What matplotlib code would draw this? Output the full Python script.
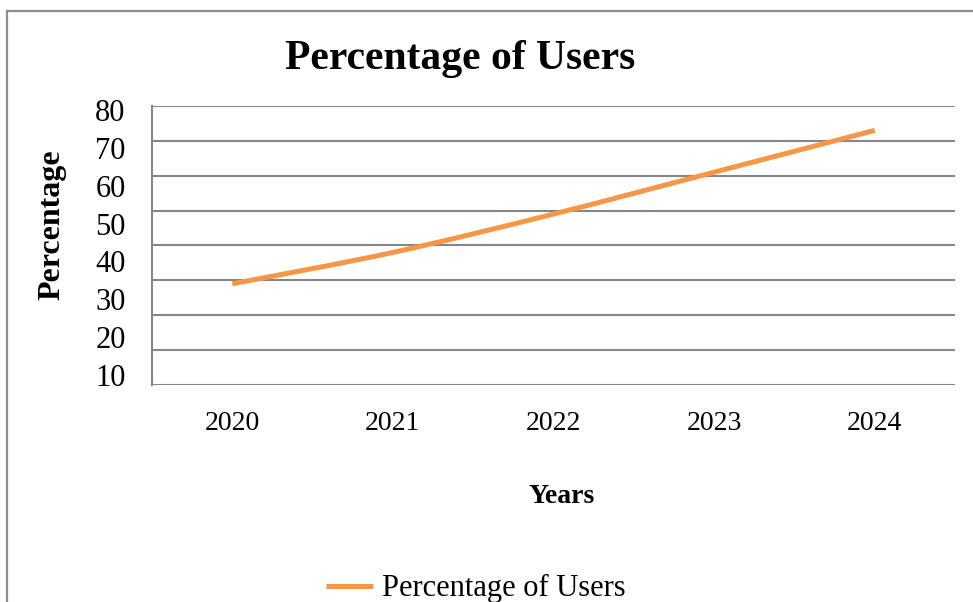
import matplotlib
matplotlib.use("Agg")
import matplotlib.pyplot as plt
from matplotlib.path import Path
from matplotlib.patches import PathPatch, Rectangle
from matplotlib.lines import Line2D

# Data
years = ["2020", "2021", "2022", "2023", "2024"]
users_pct = [29, 38, 49, 61, 73]
grid_values = [0, 10, 20, 30, 40, 50, 60, 70, 80]
axis_labels = [10, 20, 30, 40, 50, 60, 70, 80]

LINE_COLOR = "#F79646"
GRID_COLOR = "#868686"

plt.rcParams["font.family"] = ["Liberation Serif", "DejaVu Serif"]

fig = plt.figure(figsize=(9.73, 6.02), dpi=100)
fig.patch.set_facecolor("white")

# Chart border (left and top edges visible, rest runs off the canvas)
fig.add_artist(Rectangle((7 / 973, -0.1), 1.1, (602 - 11) / 602 + 0.1,
                         transform=fig.transFigure, fill=False,
                         ec="#8c8c8c", lw=1.6, zorder=0))

ax = fig.add_axes([0.1562, 0.3605, 0.8253, 0.4635])
ax.set_xlim(-0.5, len(years) - 0.5)
ax.set_ylim(0, 80)
for v in grid_values:
    ax.axhline(v, color=GRID_COLOR, lw=1.5, zorder=1)
for side in ["top", "right", "bottom"]:
    ax.spines[side].set_visible(False)
ax.spines["left"].set_color(GRID_COLOR)
ax.spines["left"].set_linewidth(1.5)
ax.set_yticks([])
ax.set_xticks(range(len(years)))
ax.set_xticklabels(years, fontsize=20)
ax.tick_params(axis="x", length=0, pad=19)


def smooth_path(xs, ys):
    pts = list(zip(xs, ys))
    verts = [pts[0]]
    codes = [Path.MOVETO]
    n = len(pts)
    for i in range(n - 1):
        p0 = pts[i - 1] if i > 0 else pts[i]
        p1 = pts[i]
        p2 = pts[i + 1]
        p3 = pts[i + 2] if i + 2 < n else pts[i + 1]
        c1 = (p1[0] + (p2[0] - p0[0]) / 6, p1[1] + (p2[1] - p0[1]) / 6)
        c2 = (p2[0] - (p3[0] - p1[0]) / 6, p2[1] - (p3[1] - p1[1]) / 6)
        verts += [c1, c2, p2]
        codes += [Path.CURVE4] * 3
    return Path(verts, codes)


ax.add_patch(PathPatch(smooth_path(range(len(years)), users_pct),
                       fill=False, ec=LINE_COLOR, lw=3.6,
                       capstyle="butt", zorder=3))

# Value labels along the left side
ax_lab = fig.add_axes(ax.get_position(), frameon=False)
ax_lab.set_ylim(7.36, 81.06)
ax_lab.set_yticks(axis_labels)
ax_lab.set_yticklabels([str(v) for v in axis_labels], fontsize=22)
ax_lab.tick_params(axis="y", length=0, pad=19)
ax_lab.set_xticks([])
ax_lab.patch.set_alpha(0)

fig.text(0.473, 0.885, "Percentage of Users", ha="center", va="baseline",
         fontsize=30, fontweight="bold")
fig.text(0.0534, 0.626, "Percentage", rotation=90, ha="center", va="center",
         fontsize=23, fontweight="bold")
fig.text(0.5776, 0.176, "Years", ha="center", va="center",
         fontsize=20, fontweight="bold")

handle = Line2D([], [], color=LINE_COLOR, lw=3.6, solid_capstyle="butt")
fig.legend(handles=[handle], labels=["Percentage of Users"],
           loc="center left", bbox_to_anchor=(0.322, 0.022),
           frameon=False, fontsize=22, handlelength=1.55,
           handletextpad=0.3, borderaxespad=0)

fig.savefig("out.png", dpi=100)
